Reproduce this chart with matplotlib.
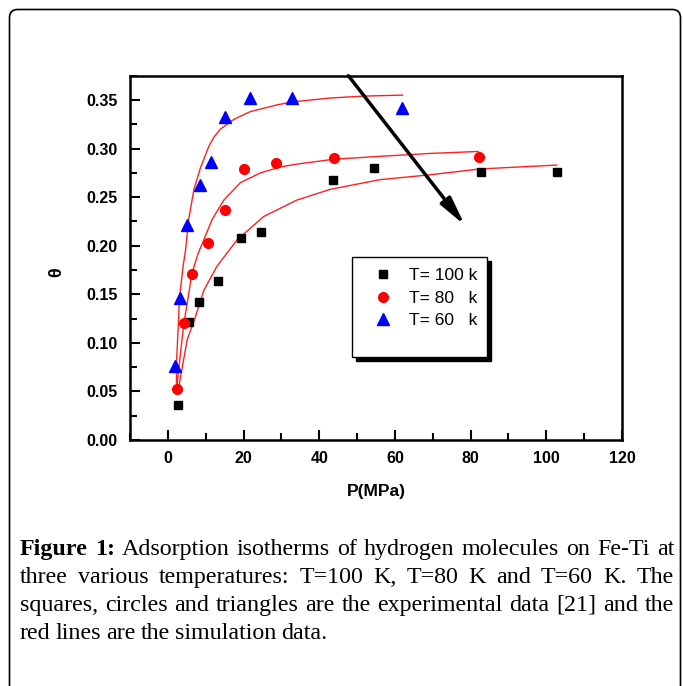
import numpy as np
import matplotlib.pyplot as plt
from matplotlib.patches import FancyBboxPatch, Rectangle
from matplotlib.lines import Line2D

# experimental points
p100 = [2.7, 5.6, 8.1, 13.3, 19.4, 24.5, 43.7, 54.5, 82.8, 102.9]
th100 = [0.036, 0.121, 0.142, 0.164, 0.208, 0.214, 0.268, 0.280, 0.276, 0.276]
p80 = [2.3, 4.3, 6.4, 10.7, 15.2, 20.0, 28.6, 43.9, 82.2]
th80 = [0.053, 0.120, 0.171, 0.203, 0.237, 0.279, 0.285, 0.290, 0.291]
p60 = [1.9, 3.2, 5.1, 8.4, 11.3, 15.2, 21.7, 32.8, 61.8]
th60 = [0.076, 0.146, 0.221, 0.263, 0.286, 0.332, 0.352, 0.352, 0.342]

# simulation curves
fit60_p = [2.3, 2.25, 3.1, 4.0, 4.7, 5.5, 6.9, 8.6, 10.8, 12.2, 13.9, 17.4, 21.8, 28.9, 32.8, 42.9, 51.7, 62.0]
fit60_th = [0.053, 0.076, 0.147, 0.178, 0.196, 0.227, 0.258, 0.280, 0.302, 0.312, 0.320, 0.330, 0.338, 0.345, 0.348, 0.352, 0.354, 0.355]
fit80_p = [2.3, 4.2, 6.4, 8.0, 9.5, 11.7, 14.8, 19.2, 24.5, 29.7, 34.1, 43.8, 56.1, 69.3, 82.0]
fit80_th = [0.053, 0.119, 0.172, 0.192, 0.206, 0.227, 0.247, 0.265, 0.275, 0.281, 0.284, 0.289, 0.292, 0.295, 0.297]
fit100_p = [2.9, 5.1, 7.3, 9.5, 13.0, 18.3, 25.3, 34.1, 42.9, 56.1, 69.3, 82.5, 102.7]
fit100_th = [0.055, 0.103, 0.127, 0.154, 0.179, 0.206, 0.230, 0.247, 0.258, 0.268, 0.273, 0.279, 0.283]

labels = ['T= 100 k', 'T= 80   k', 'T= 60   k']

caption = [
    'Figure 1: Adsorption isotherms of hydrogen molecules on Fe-Ti at',
    'three various temperatures: T=100 K, T=80 K and T=60 K. The',
    'squares, circles and triangles are the experimental data [21] and the',
    'red lines are the simulation data.',
]

W, H = 683, 686
fig = plt.figure(figsize=(W / 100, H / 100), dpi=100)
ax = fig.add_axes([130 / W, 1 - 440 / H, 492 / W, 364.3 / H])

sans = 'Liberation Sans'

ax.plot(fit100_p, fit100_th, color='#ff2020', lw=1.0, zorder=2)
ax.plot(fit80_p, fit80_th, color='#ff2020', lw=1.0, zorder=2)
ax.plot(fit60_p, fit60_th, color='#ff2020', lw=1.0, zorder=2)
ax.plot(p100, th100, 's', color='black', ms=6, ls='none', zorder=3)
ax.plot(p80, th80, 'o', color='red', ms=7, ls='none', zorder=3)
ax.plot(p60, th60, '^', color='blue', ms=8, ls='none', zorder=3)

ax.annotate('', xy=(78.5, 0.221), xytext=(47.7, 0.375),
            arrowprops=dict(arrowstyle='-|>,head_length=1.0,head_width=0.22',
                            mutation_scale=17, lw=2.5, color='black',
                            shrinkA=0, shrinkB=0), zorder=4)

ax.set_xlim(-10, 120)
ax.set_ylim(0, 0.375)
ax.set_xticks(np.arange(0, 121, 20))
ax.set_xticks(np.arange(-10, 121, 10), minor=True)
ax.set_yticks(np.arange(0, 0.351, 0.05))
ax.set_yticks(np.arange(0, 0.376, 0.025), minor=True)
ax.set_xticklabels([str(v) for v in range(0, 121, 20)])
ax.set_yticklabels(['%.2f' % v for v in np.arange(0, 0.351, 0.05)])
ax.tick_params(which='both', direction='in', width=1.5, top=False, right=False)
ax.tick_params(which='major', length=7)
ax.tick_params(which='minor', length=5)
ax.tick_params(axis='y', pad=9)
ax.tick_params(axis='x', pad=8)
for lab in ax.get_xticklabels() + ax.get_yticklabels():
    lab.set_fontfamily(sans)
    lab.set_fontweight('bold')
    lab.set_fontsize(11.5)
for s in ax.spines.values():
    s.set_linewidth(1.8)

ax.set_xlabel('P(MPa)', fontfamily=sans, fontweight='bold', fontsize=12.5)
ax.xaxis.set_label_coords(0.5, -0.12)
ax.set_ylabel('θ', fontfamily=sans, fontweight='bold', fontsize=13)
ax.yaxis.set_label_coords(-0.132, 0.46)

# legend box with a solid shadow
ax.add_patch(Rectangle((0.4586, 0.2177), 0.2744, 0.2728, transform=ax.transAxes,
                       facecolor='black', edgecolor='black', zorder=5))
ax.add_patch(Rectangle((0.4506, 0.2287), 0.2744, 0.2728, transform=ax.transAxes,
                       facecolor='white', edgecolor='black', lw=1.0, zorder=6))
handles = [Line2D([], [], marker='s', color='black', ls='none', ms=6),
           Line2D([], [], marker='o', color='red', ls='none', ms=7),
           Line2D([], [], marker='^', color='blue', ls='none', ms=8)]
leg = ax.legend(handles, labels, loc='upper left', bbox_to_anchor=(0.4967, 0.472),
                frameon=False, borderpad=0, borderaxespad=0, handlelength=1.0,
                handletextpad=1.0, labelspacing=0.42,
                prop={'family': sans, 'size': 12.5})
leg.set_zorder(7)

# outer rounded frame
fig.patches.append(FancyBboxPatch((9.5 / W, -0.05), 671 / W, 1 - 9.5 / H + 0.05,
                                  boxstyle='round,pad=0,rounding_size=0.012',
                                  transform=fig.transFigure, facecolor='none',
                                  edgecolor='black', lw=1.2))

# justified caption
renderer = fig.canvas.get_renderer()
x0, x1 = 20, 674
for i, line in enumerate(caption):
    y = 1 - (555 + 28 * i) / H
    words = line.split(' ')
    texts = []
    for j, w in enumerate(words):
        bold = (i == 0 and j < 2)
        t = fig.text(0, y, w, fontfamily='Liberation Serif', fontsize=17.3,
                     fontweight='bold' if bold else 'normal', va='baseline')
        texts.append(t)
    widths = [t.get_window_extent(renderer).width for t in texts]
    if i < len(caption) - 1:
        gap = (x1 - x0 - sum(widths)) / (len(words) - 1)
    else:
        gap = 5
    x = x0
    for t, wd in zip(texts, widths):
        t.set_x(x / W)
        x += wd + gap

fig.savefig('out.png', dpi=100)
